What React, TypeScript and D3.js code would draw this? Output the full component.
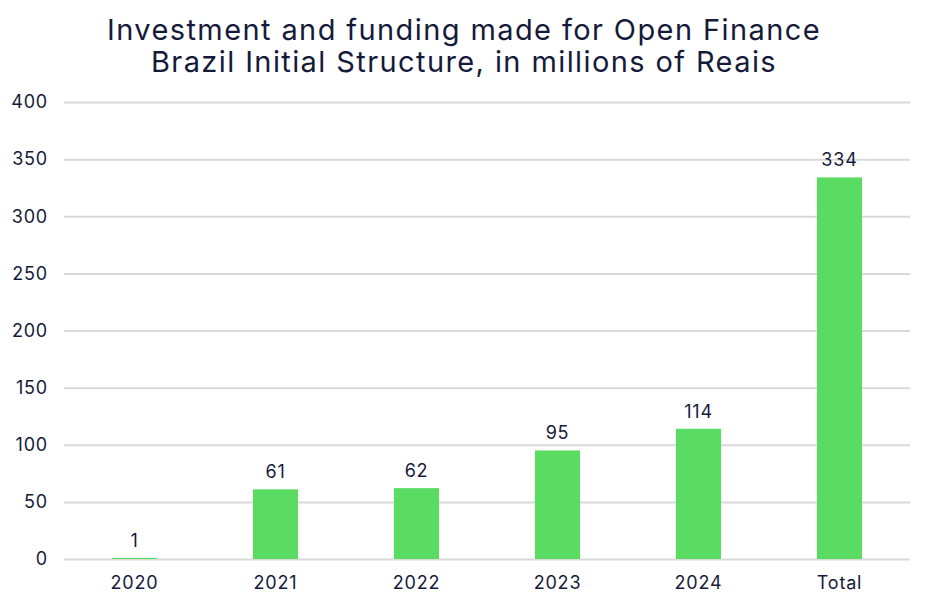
import React, { useRef, useEffect } from "react";
import * as d3 from "d3";

const categories = ["2020", "2021", "2022", "2023", "2024", "Total"];
const values = [1, 61, 62, 95, 114, 334];
const yTicks = [0, 50, 100, 150, 200, 250, 300, 350, 400];
const titleLines = [
    "Investment and funding made for Open Finance",
    "Brazil Initial Structure, in millions of Reais",
];

const App: React.FC = () => {
    const svgRef = useRef<SVGSVGElement | null>(null);

    useEffect(() => {
        if (!svgRef.current) return;

        const width = 927;
        const height = 602;
        const marginTop = 102;
        const marginRight = 17;
        const marginBottom = 43;
        const marginLeft = 64;
        const ink = "#161a3a";
        const font = "Inter, 'Noto Sans', sans-serif";

        const svg = d3.select(svgRef.current)
            .attr("width", width)
            .attr("height", height)
            .attr("viewBox", `0 0 ${width} ${height}`)
            .style("position", "absolute")
            .style("left", "0px")
            .style("top", "0px")
            .style("background", "#fff")
            .style("font-family", font);

        svg.selectAll("*").remove();

        const x = d3.scaleBand<string>()
            .domain(categories)
            .range([marginLeft, width - marginRight])
            .paddingInner(0.68)
            .paddingOuter(0.34);

        const y = d3.scaleLinear()
            .domain([0, 400])
            .range([height - marginBottom, marginTop]);

        // title
        svg.append("g")
            .selectAll("text")
            .data(titleLines)
            .join("text")
            .attr("x", 464)
            .attr("y", (_, i) => 40 + i * 32)
            .attr("text-anchor", "middle")
            .attr("fill", ink)
            .attr("font-size", 29)
            .attr("letter-spacing", 1.4)
            .text(d => d);

        // y axis with gridlines
        svg.append("g")
            .attr("transform", `translate(${marginLeft},0)`)
            .call(d3.axisLeft(y).tickValues(yTicks).tickSize(0).tickPadding(16))
            .call(g => g.select(".domain").remove())
            .call(g => g.selectAll(".tick line").clone()
                .attr("x2", width - marginLeft - marginRight)
                .attr("stroke", "#d9d9d9")
                .attr("stroke-width", 2))
            .call(g => g.selectAll("text")
                .attr("fill", ink)
                .attr("font-size", 18)
                .attr("letter-spacing", 0.8)
                .attr("font-family", font));

        // x axis labels
        svg.append("g")
            .attr("transform", `translate(0,${height - marginBottom})`)
            .call(d3.axisBottom(x).tickSize(0).tickPadding(17))
            .call(g => g.select(".domain").remove())
            .call(g => g.selectAll("text")
                .attr("fill", ink)
                .attr("font-size", 18)
                .attr("letter-spacing", 0.8)
                .attr("font-family", font));

        // bars
        svg.append("g")
            .attr("fill", "#5adb62")
            .selectAll("rect")
            .data(values)
            .join("rect")
            .attr("x", (_, i) => x(categories[i])!)
            .attr("y", d => y(d))
            .attr("width", x.bandwidth())
            .attr("height", d => y(0) - y(d));

        // value labels
        svg.append("g")
            .selectAll("text")
            .data(values)
            .join("text")
            .attr("x", (_, i) => x(categories[i])! + x.bandwidth() / 2)
            .attr("y", d => y(d) - 11)
            .attr("text-anchor", "middle")
            .attr("fill", ink)
            .attr("font-size", 18)
            .attr("letter-spacing", 0.8)
            .text(d => d);
    }, []);

    return <svg ref={svgRef} />;
};

export default App;
